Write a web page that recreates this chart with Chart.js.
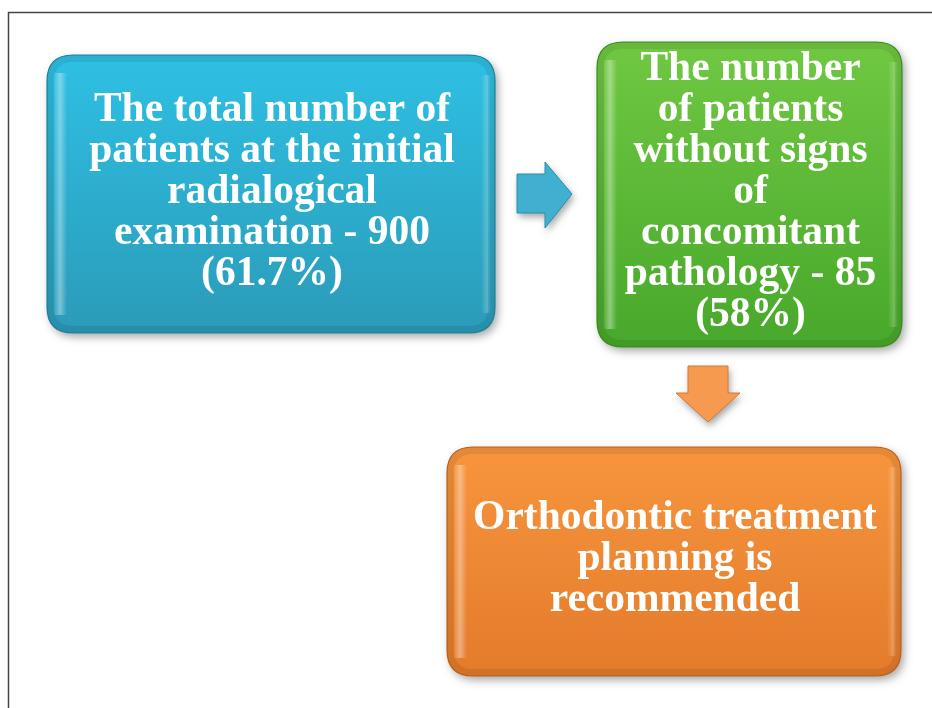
<!DOCTYPE html>
<html>
<head>
<meta charset="utf-8">
<script src="https://cdn.jsdelivr.net/npm/chart.js@4.4.0/dist/chart.umd.min.js"></script>
<style>
  html, body { margin: 0; padding: 0; background: #fff; }
  #wrap { width: 932px; height: 708px; }
</style>
</head>
<body>
<div id="wrap"><canvas id="grafico" width="932" height="708"></canvas></div>
<script>
// flow steps
var etapas = ['inicial', 'sem patologia', 'planejamento'];
var pacientes = [900, 85, null];
var percentuais = [61.7, 58, null];
var textos = [
  ['The total number of', 'patients at the initial', 'radialogical', 'examination - ' + pacientes[0], '(' + percentuais[0] + '%)'],
  ['The number', 'of patients', 'without signs', 'of', 'concomitant', 'pathology - ' + pacientes[1], '(' + percentuais[1] + '%)'],
  ['Orthodontic treatment', 'planning is', 'recommended']
];
var cores = [
  ['#2ec0e4', '#2b9bb8', '#24869f'],
  ['#70c842', '#48a82b', '#3d9224'],
  ['#f7953d', '#e37b2b', '#c2661f']
];

// layout in chart units (0..932 x 0..708)
var caixas = [
  { x0: 47, x1: 495, y0: 55, y1: 333 },
  { x0: 597, x1: 902, y0: 42, y1: 347 },
  { x0: 447, x1: 901, y0: 447, y1: 676 }
];
var setas = [
  { de: 0, cor: '#3fb0cf', borda: '#2a8ca8', pts: [[517,174],[545,174],[545,162],[572,194],[545,228],[545,213],[517,213]] },
  { de: 1, cor: '#f59a4f', borda: '#d27a35', pts: [[688,366],[728,366],[728,393],[740,393],[708,422],[676,393],[688,393]] }
];

function rr(ctx, x, y, w, h, r) {
  ctx.beginPath();
  ctx.moveTo(x + r, y);
  ctx.lineTo(x + w - r, y);
  ctx.quadraticCurveTo(x + w, y, x + w, y + r);
  ctx.lineTo(x + w, y + h - r);
  ctx.quadraticCurveTo(x + w, y + h, x + w - r, y + h);
  ctx.lineTo(x + r, y + h);
  ctx.quadraticCurveTo(x, y + h, x, y + h - r);
  ctx.lineTo(x, y + r);
  ctx.quadraticCurveTo(x, y, x + r, y);
  ctx.closePath();
}

var fluxo = {
  id: 'fluxo',
  afterDraw: function(chart) {
    var ctx = chart.ctx;
    var sx = chart.scales.x, sy = chart.scales.y;
    ctx.save();

    // frame
    ctx.strokeStyle = '#444';
    ctx.lineWidth = 1.5;
    ctx.beginPath();
    ctx.moveTo(sx.getPixelForValue(8.5), sy.getPixelForValue(708));
    ctx.lineTo(sx.getPixelForValue(8.5), sy.getPixelForValue(12.5));
    ctx.lineTo(sx.getPixelForValue(932), sy.getPixelForValue(12.5));
    ctx.stroke();

    caixas.forEach(function(c, i) {
      var x = sx.getPixelForValue(c.x0), y = sy.getPixelForValue(c.y0);
      var w = sx.getPixelForValue(c.x1) - x, h = sy.getPixelForValue(c.y1) - y;
      var r = 26;
      // shadow
      ctx.save();
      ctx.shadowColor = 'rgba(0,0,0,0.35)';
      ctx.shadowBlur = 9;
      ctx.shadowOffsetX = 3;
      ctx.shadowOffsetY = 4;
      rr(ctx, x, y, w, h, r);
      ctx.fillStyle = cores[i][1];
      ctx.fill();
      ctx.restore();
      // body gradient
      var g = ctx.createLinearGradient(0, y, 0, y + h);
      g.addColorStop(0, cores[i][0]);
      g.addColorStop(1, cores[i][1]);
      rr(ctx, x, y, w, h, r);
      ctx.fillStyle = g;
      ctx.fill();
      ctx.lineWidth = 1.2;
      ctx.strokeStyle = cores[i][2];
      ctx.stroke();
      // inner bevel: darker rim
      ctx.save();
      rr(ctx, x, y, w, h, r);
      ctx.clip();
      ctx.lineWidth = 8;
      ctx.strokeStyle = 'rgba(0,0,0,0.08)';
      rr(ctx, x + 3, y + 3, w - 6, h - 6, r - 3);
      ctx.stroke();
      // gloss strip on left
      var gl = ctx.createLinearGradient(x + 6, 0, x + 20, 0);
      gl.addColorStop(0, 'rgba(255,255,255,0)');
      gl.addColorStop(0.5, 'rgba(255,255,255,0.38)');
      gl.addColorStop(1, 'rgba(255,255,255,0)');
      var gv = ctx.createLinearGradient(0, y + 14, 0, y + h - 14);
      ctx.fillStyle = gl;
      ctx.fillRect(x + 6, y + 18, 14, h - 36);
      // faint strip on right
      var gr = ctx.createLinearGradient(x + w - 14, 0, x + w - 4, 0);
      gr.addColorStop(0, 'rgba(255,255,255,0)');
      gr.addColorStop(0.6, 'rgba(255,255,230,0.22)');
      gr.addColorStop(1, 'rgba(255,255,255,0)');
      ctx.fillStyle = gr;
      ctx.fillRect(x + w - 14, y + 20, 10, h - 40);
      ctx.restore();

      // text
      var linhas = textos[i];
      var lh = 41;
      var cx = x + w / 2 + 1, cy = y + h / 2 - 2;
      ctx.fillStyle = '#ffffff';
      ctx.font = 'bold 41.5px "Liberation Serif", "Times New Roman", serif';
      ctx.textAlign = 'center';
      ctx.textBaseline = 'middle';
      linhas.forEach(function(t, k) {
        ctx.fillText(t, cx, cy + (k - (linhas.length - 1) / 2) * lh);
      });
    });

    setas.forEach(function(s) {
      ctx.save();
      ctx.beginPath();
      s.pts.forEach(function(p, k) {
        var px = sx.getPixelForValue(p[0]), py = sy.getPixelForValue(p[1]);
        if (k === 0) ctx.moveTo(px, py); else ctx.lineTo(px, py);
      });
      ctx.closePath();
      ctx.shadowColor = 'rgba(0,0,0,0.35)';
      ctx.shadowBlur = 7;
      ctx.shadowOffsetX = 2;
      ctx.shadowOffsetY = 4;
      ctx.fillStyle = s.cor;
      ctx.fill();
      ctx.shadowColor = 'transparent';
      ctx.lineWidth = 1;
      ctx.strokeStyle = s.borda;
      ctx.stroke();
      ctx.restore();
    });

    ctx.restore();
  }
};

var ctx = document.getElementById('grafico').getContext('2d');
var myChart = new Chart(ctx, {
  type: 'scatter',
  data: {
    labels: etapas,
    datasets: [{
      data: [],
      pointRadius: 0
    }]
  },
  options: {
    responsive: false,
    animation: false,
    layout: { padding: 0 },
    scales: {
      x: { type: 'linear', min: 0, max: 932, display: false },
      y: { type: 'linear', min: 0, max: 708, reverse: true, display: false }
    },
    plugins: {
      legend: { display: false },
      tooltip: { enabled: false }
    }
  },
  plugins: [fluxo]
});
</script>
</body>
</html>
